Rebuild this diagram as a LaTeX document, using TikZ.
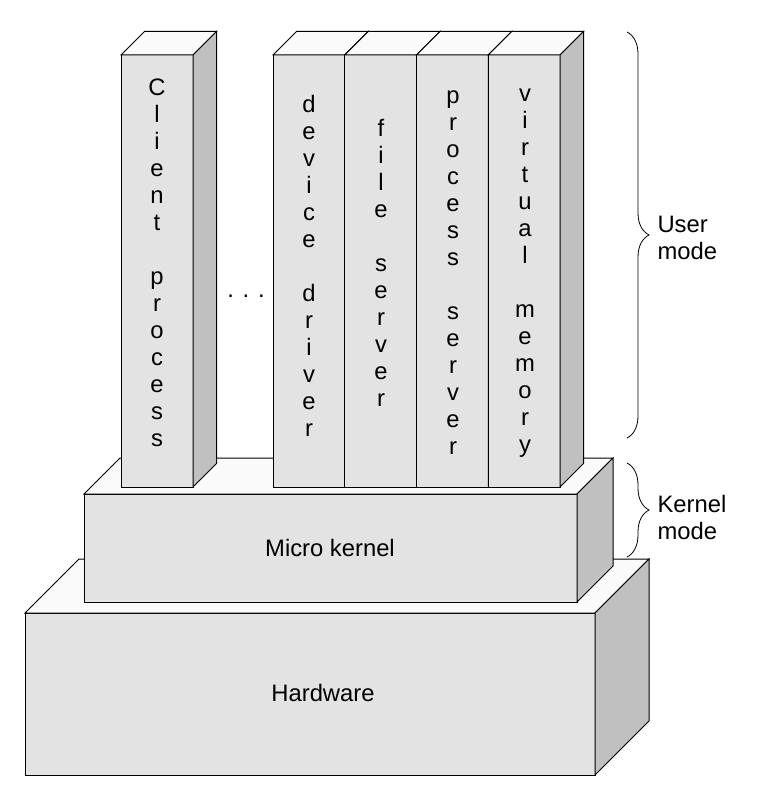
\documentclass[tikz,border=0pt]{standalone}
\usepackage{fontspec}
\setmainfont{Liberation Sans}
\usetikzlibrary{decorations.pathreplacing}

\definecolor{frontgray}{RGB}{227,227,227}
\definecolor{sidegray}{RGB}{192,192,192}
\definecolor{topgray}{RGB}{250,250,250}

% box: x, y of front top left corner, width, height, depth
\newcommand{\slab}[5]{%
  \filldraw[fill=frontgray] (#1,#2) rectangle ++(#3,#4);
  \filldraw[fill=topgray] (#1,#2) -- ++(#5,-#5) -- ++(#3,0) -- ++(-#5,#5) -- cycle;
  \filldraw[fill=sidegray] (#1+#3,#2) -- ++(#5,-#5) -- ++(0,#4) -- ++(-#5,#5) -- cycle;
}

\tikzset{
  modebrace/.style={decorate, decoration={brace, amplitude=22pt}, line width=0.8pt},
  modelabel/.style={align=left, anchor=west, inner sep=0pt}
}

\begin{document}
\begin{tikzpicture}[x=1pt, y=-1pt, line width=1pt, font=\fontsize{23.8}{27}\selectfont]
    \useasboundingbox (0,0) rectangle (758,789);

    % layers
    \slab{25}{613}{570}{162}{54}
    \slab{84}{494}{493}{108}{36}
    \slab{121}{55}{72}{432}{23.5}
    \slab{273}{55}{71.75}{432}{23.5}
    \slab{344.75}{55}{71.75}{432}{23.5}
    \slab{416.5}{55}{71.75}{432}{23.5}
    \slab{488.25}{55}{71.75}{432}{23.5}

    \node (hw) at (323,693) {Hardware};
    \node (mk) at (330,548) {Micro kernel};

    \node[align=center] (client) at (157,263) {C\\l\\i\\e\\n\\t\\\mbox{}\\p\\r\\o\\c\\e\\s\\s};
    \node[align=center] (dev) at (309,266) {d\\e\\v\\i\\c\\e\\\mbox{}\\d\\r\\i\\v\\e\\r};
    \node[align=center] (file) at (381,263) {f\\i\\l\\e\\\mbox{}\\s\\e\\r\\v\\e\\r};
    \node[align=center] (proc) at (453,273) {p\\r\\o\\c\\e\\s\\s\\\mbox{}\\s\\e\\r\\v\\e\\r};
    \node[align=center] (vm) at (525,273) {v\\i\\r\\t\\u\\a\\l\\\mbox{}\\m\\e\\m\\o\\r\\y};
    \node (dots) at (246,296) {. . .};

    % modes
    \coordinate (utop) at (627,32);
    \coordinate (ubot) at (627,438);
    \coordinate (ktop) at (627,463);
    \coordinate (kbot) at (627,557);
    \draw[modebrace] (utop) -- (ubot);
    \draw[modebrace] (ktop) -- (kbot);
    \node[modelabel] (user) at (657,238) {User\\mode};
    \node[modelabel] (kernel) at (657,517) {Kernel\\mode};
\end{tikzpicture}
\end{document}
